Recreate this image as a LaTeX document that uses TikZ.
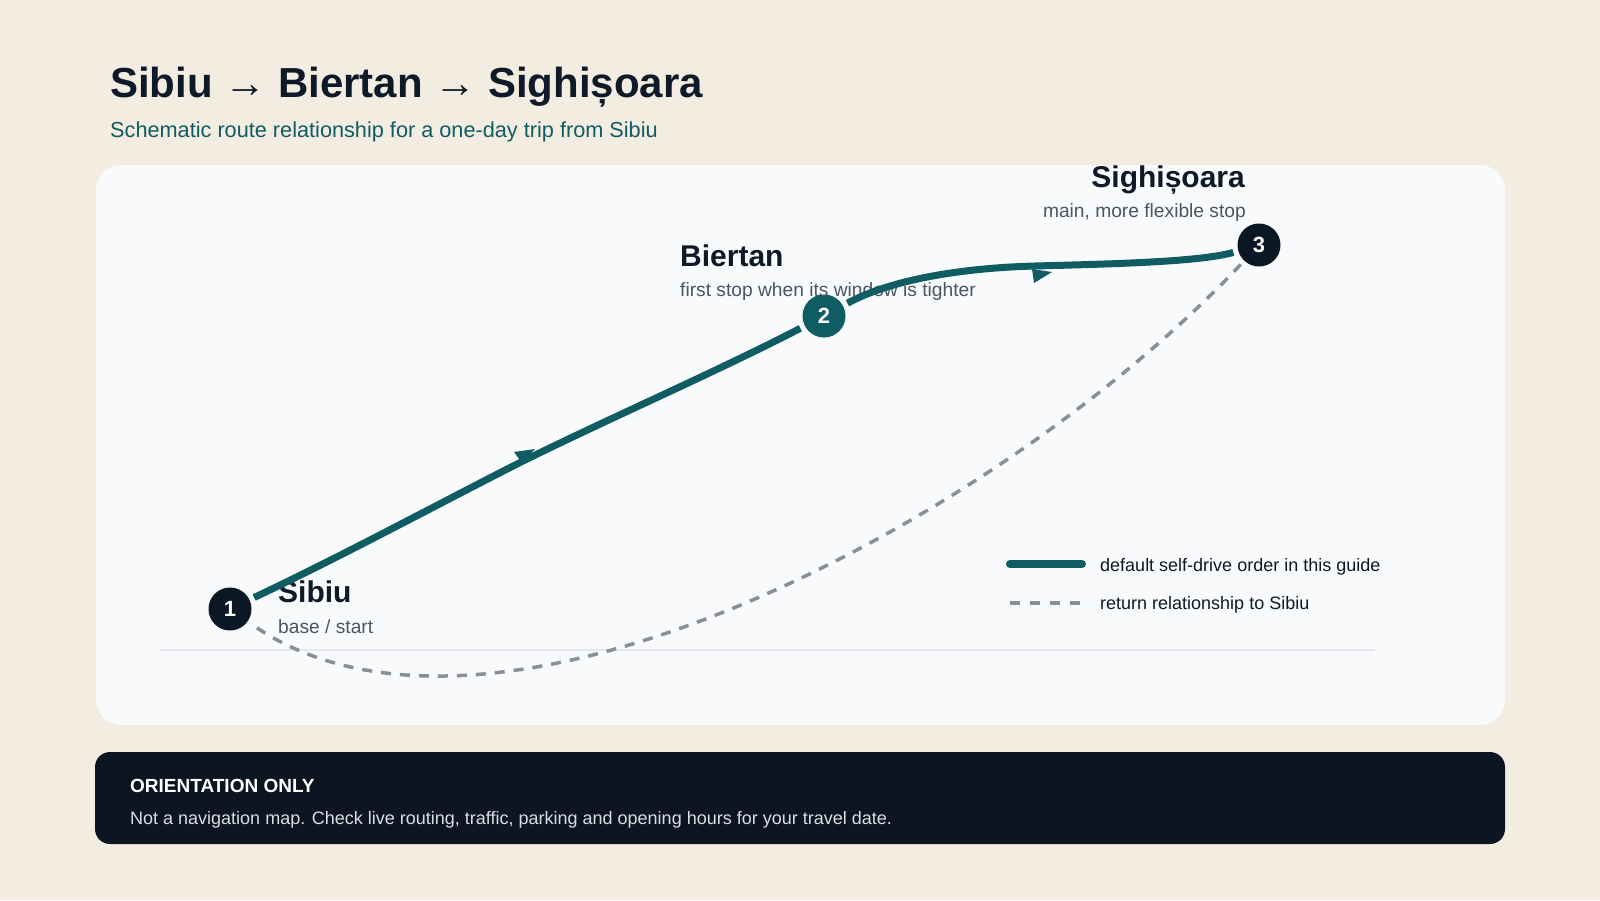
\documentclass[tikz,border=0pt]{standalone}
\usepackage{fontspec}
\setmainfont{Liberation Sans}
\definecolor{paper}{HTML}{F3ECE0}
\definecolor{card}{HTML}{F8FAFC}
\definecolor{ink}{HTML}{0E1A27}
\definecolor{routeteal}{HTML}{0F5C63}
\definecolor{nightblue}{HTML}{0B1724}
\definecolor{slate}{HTML}{8A8E96}
\definecolor{muted}{HTML}{4B5563}
\definecolor{rule}{HTML}{E4E7EB}
\definecolor{footer}{HTML}{0B1622}
\definecolor{footertext}{HTML}{D9DEE4}
\begin{document}
\begin{tikzpicture}[x=1pt,y=-1pt,
    stop/.style={circle,minimum size=43pt,inner sep=0pt,text=white,
      font=\fontsize{22}{22}\selectfont\bfseries},
    place/.style={inner sep=0pt,text=ink,font=\fontsize{30}{30}\selectfont\bfseries},
    note/.style={inner sep=0pt,text=muted,font=\fontsize{19.2}{19.2}\selectfont},
    keytext/.style={inner sep=0pt,anchor=base west,text=ink,font=\fontsize{18}{18}\selectfont},
    route/.style={draw=routeteal,line width=7pt},
    back/.style={draw=slate,line width=3.5pt,dash pattern=on 10pt off 9pt}]
  % page and card
  \fill[paper] (0,0) rectangle (1600,900);
  \fill[card,rounded corners=25pt] (96,165) rectangle (1505,725);
  \draw[rule,line width=2pt] (160,650) -- (1375,650);

  % heading
  \node[anchor=base west,inner sep=0pt,text=ink,font=\fontsize{42}{42}\selectfont\bfseries]
    (title) at (110,97) {Sibiu → Biertan → Sighișoara};
  \node[anchor=base west,inner sep=0pt,text=routeteal,font=\fontsize{21.7}{21.7}\selectfont]
    (subtitle) at (110,137) {Schematic route relationship for a one-day trip from Sibiu};

  % stops
  \node[stop,fill=nightblue] (n1) at (230,609) {1};
  \node[stop,fill=routeteal] (n2) at (824,316) {2};
  \node[stop,fill=nightblue] (n3) at (1259,245) {3};
  \coordinate (m1) at (523,461);
  \coordinate (m2) at (1035,266);

  \node[place,anchor=base west] (sibiu) at (278,602) {Sibiu};
  \node[note,anchor=base west] (sibiunote) at (278,633) {base / start};
  \node[place,anchor=base west] (biertan) at (680,266) {Biertan};
  \node[note,anchor=base west] (biertannote) at (680,296) {first stop when its window is tighter};
  \node[place,anchor=base east] (sighisoara) at (1245,187) {Sighișoara};
  \node[note,anchor=base east] (sighisoaranote) at (1246,217) {main, more flexible stop};

  % routes
  \begin{scope}[shorten <=5pt,shorten >=5pt]
    \draw[back] (n3) .. controls (1000,520) and (490,792) .. (n1);
    \draw[route] (n1) .. controls (350,552) and (440,503) .. (m1)
      .. controls (610,418) and (720,370) .. (n2);
    \draw[route] (n2) .. controls (890,280) and (960,268) .. (m2)
      .. controls (1110,264) and (1200,262) .. (n3);
  \end{scope}
  % direction marks
  \fill[routeteal] (m1) ++(-9,-9) -- ++(21,-3) -- ++(-13,14) -- cycle;
  \fill[routeteal] (m2) ++(-3,3) -- ++(20,3) -- ++(-18,11) -- cycle;

  % legend
  \coordinate (k1a) at (1010,564);
  \coordinate (k1b) at (1082,564);
  \coordinate (k2a) at (1010,603);
  \coordinate (k2b) at (1082,603);
  \draw[route,line width=8pt,line cap=round] (k1a) -- (k1b);
  \draw[back,dash pattern=on 10pt off 10pt] (k2a) -- (k2b);
  \node[keytext] (key1) at (1100,571) {default self-drive order in this guide};
  \node[keytext] (key2) at (1100,609) {return relationship to Sibiu};

  % footer
  \fill[footer,rounded corners=15pt] (95,752) rectangle (1505,844);
  \node[anchor=base west,inner sep=0pt,text=white,font=\fontsize{19}{19}\selectfont\bfseries]
    (warnhead) at (130,792) {ORIENTATION ONLY};
  \node[anchor=base west,inner sep=0pt,text=footertext,font=\fontsize{18}{18}\selectfont]
    (warntext) at (130,824) {Not a navigation map. Check live routing, traffic, parking and opening hours for your travel date.};
\end{tikzpicture}
\end{document}
